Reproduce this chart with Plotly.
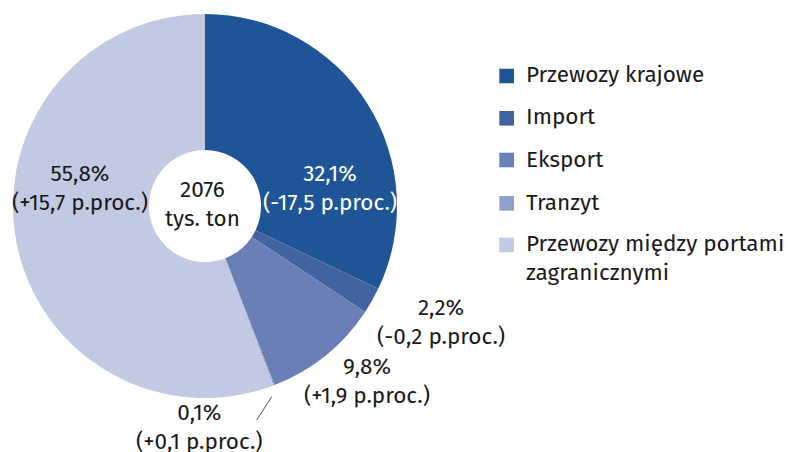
import plotly.graph_objects as go

categories = ["Przewozy krajowe", "Import", "Eksport", "Tranzyt",
              "Przewozy między portami<br>zagranicznymi"]
shares = [32.1, 2.2, 9.8, 0.1, 55.8]
share_labels = ["32,1%", "2,2%", "9,8%", "0,1%", "55,8%"]
change_labels = ["(-17,5 p.proc.)", "(-0,2 p.proc.)", "(+1,9 p.proc.)",
                 "(+0,1 p.proc.)", "(+15,7 p.proc.)"]
colors = ["#1f5597", "#41639f", "#6a7fb6", "#8fa0cb", "#c1c9e3"]
total_label = "2076<br>tys. ton"

W, H = 793, 452
OFF = 8  # page body margin offset
FONT = "Fira Sans, Noto Sans, sans-serif"
FS = 22.5
FS_LEG = 22.5
CAP = 7.7  # half cap height, baseline -> middle


def px(x):
    return (x - OFF) / W


def py(y):
    return 1 - (y - OFF) / H


def text_at(x, baseline_mid, text, color, size=FS, anchor="center"):
    return dict(x=px(x), y=py(baseline_mid - CAP), xref="paper", yref="paper",
                text=text, showarrow=False, xanchor=anchor, yanchor="middle",
                align="center" if anchor == "center" else "left",
                font=dict(family=FONT, size=size, color=color))


fig = go.Figure(go.Pie(
    labels=categories,
    values=shares,
    marker=dict(colors=colors, line=dict(width=0)),
    hole=0.292,
    sort=False,
    direction="clockwise",
    rotation=0,
    textinfo="none",
    hoverinfo="label+percent",
    showlegend=False,
    domain=dict(x=[px(13), px(397)], y=[py(398), py(14)]),
))

# slice labels: (x centre, mean baseline of the two lines, colour)
label_pos = [(330, 195.8, "white"),
             (441, 329.2, "#1a1a1a"),
             (367, 388.8, "#1a1a1a"),
             (199, 435.0, "#1a1a1a"),
             (80, 195.8, "#1a1a1a")]
annotations = []
for (x, b, c), s, ch in zip(label_pos, share_labels, change_labels):
    annotations.append(text_at(x, b, f"{s}<br>{ch}", c))
annotations.append(text_at(202, 211.7, total_label, "#1a1a1a"))

shapes = [dict(type="line", xref="paper", yref="paper",
               x0=px(271.7), y0=py(396.7), x1=px(256.7), y1=py(420),
               line=dict(color="#555555", width=1))]

# manual legend
sq_centers = [76, 118.3, 160, 203.3, 245]
text_base = [82.3, 124.0, 167.3, 210.7, 252.3]
LINE = 1.3 * FS_LEG
for yc, yb, cat, col in zip(sq_centers, text_base, categories, colors):
    shapes.append(dict(type="rect", xref="paper", yref="paper",
                       x0=px(499.3), x1=px(514), y0=py(yc + 7.3), y1=py(yc - 7.3),
                       fillcolor=col, line=dict(width=0)))
    n = len(cat.split("<br>"))
    mid = yb + (n - 1) * (LINE - 2) / 2
    annotations.append(text_at(524, mid, cat, "#1a1a1a", size=FS_LEG, anchor="left"))

fig.update_layout(
    width=W, height=H,
    margin=dict(l=0, r=0, t=0, b=0),
    paper_bgcolor="white", plot_bgcolor="white",
    annotations=annotations, shapes=shapes,
)
fig.write_html("out.html")
